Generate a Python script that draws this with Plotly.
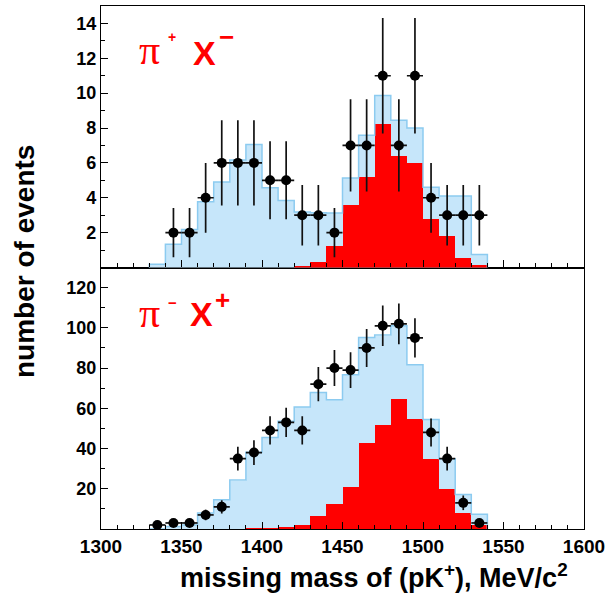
import numpy as np
import plotly.graph_objects as go

# ---------------- data ----------------
bin_centers = [1335, 1345, 1355, 1365, 1375, 1385, 1395, 1405, 1415, 1425, 1435,
               1445, 1455, 1465, 1475, 1485, 1495, 1505, 1515, 1525, 1535]

# top panel: pi+ X-
top_total = [0.18, 1.33, 2.18, 3.77, 4.91, 6.17, 7.05, 4.57, 3.85, 3.18, 3.14,
             3.12, 5.14, 7.58, 9.87, 8.44, 8.0, 4.61, 4.1, 4.1, 0.75]
top_signal = [0, 0, 0, 0, 0, 0, 0, 0, 0, 0.08, 0.3,
              1.22, 3.56, 5.22, 8.21, 6.42, 5.98, 2.8, 1.79, 0.52, 0.12]
top_pts_x = [1345, 1355, 1365, 1375, 1385, 1395, 1405, 1415, 1425, 1435,
             1445, 1455, 1465, 1475, 1485, 1495, 1505, 1515, 1525, 1535]
top_pts_y = [2, 2, 4, 6, 6, 6, 5, 5, 3, 3, 2, 7, 7, 11, 7, 11, 4, 3, 3, 3]

# bottom panel: pi- X+
bot_total = [0, 1.2, 2.0, 8.0, 14.5, 24.3, 38.2, 45.5, 53.6, 60.7, 67.8,
             64.3, 76.7, 95.2, 96.4, 101, 81.7, 54.4, 34.9, 17.2, 7.3]
bot_signal = [0, 0, 0, 0, 0.2, 0.2, 0.3, 0.6, 1.3, 2.3, 6.9,
              12.6, 21, 42.8, 52.2, 64.8, 54.9, 35, 20.2, 8.1, 2.3]
bot_pts_x = bin_centers
bot_pts_y = [2, 3, 3, 7, 11, 35, 38, 49, 53, 49, 72, 80, 79, 90, 101, 102, 95, 48, 35, 13, 3]

x_ticks = [1300, 1350, 1400, 1450, 1500, 1550, 1600]
top_yticks = [2, 4, 6, 8, 10, 12, 14]
bot_yticks = [20, 40, 60, 80, 100, 120]

BIN_W = 10
BLUE_FILL = "#c6e6fa"
BLUE_LINE = "#8ccbf0"
RED = "#ff0000"
FONT = "Liberation Sans"

W, H = 612, 596
ML, MR, MT, MB = 101, 28, 6, 67
PW, PH = W - ML - MR, H - MT - MB


def px(xp):
    return (xp - ML) / PW


def py(yp):
    return (H - MB - yp) / PH


def step_xy(centers, vals):
    edges = [c - BIN_W / 2 for c in centers]
    end = centers[-1] + BIN_W / 2
    xs = [edges[0]] + edges + [end, end]
    ys = [0] + list(vals) + [vals[-1], 0]
    return xs, ys


fig = go.Figure()

for (tot, sig, ptx, pty, xa, ya) in [
    (top_total, top_signal, top_pts_x, top_pts_y, "x2", "y2"),
    (bot_total, bot_signal, bot_pts_x, bot_pts_y, "x", "y"),
]:
    fig.add_trace(go.Bar(x=bin_centers, y=tot, width=BIN_W, marker_color=BLUE_FILL,
                         marker_line_width=0, xaxis=xa, yaxis=ya, showlegend=False))
    sx, sy = step_xy(bin_centers, tot)
    fig.add_trace(go.Scatter(x=sx, y=sy, mode="lines", line_shape="hv",
                             line=dict(color=BLUE_LINE, width=1.5),
                             xaxis=xa, yaxis=ya, showlegend=False))
    fig.add_trace(go.Bar(x=bin_centers, y=sig, width=BIN_W, marker_color=RED,
                         marker_line_width=0, xaxis=xa, yaxis=ya, showlegend=False))
    fig.add_trace(go.Scatter(
        x=ptx, y=pty, mode="markers",
        marker=dict(color="black", size=10),
        error_y=dict(type="data", array=list(np.sqrt(pty)), color="#111111",
                     thickness=1.7, width=0),
        error_x=dict(type="constant", value=BIN_W / 2, color="#111111",
                     thickness=1.7, width=0),
        xaxis=xa, yaxis=ya, showlegend=False))

axis_common = dict(showline=True, linecolor="black", linewidth=1.3, mirror=True,
                   ticks="inside", ticklen=7, tickwidth=1, tickcolor="black",
                   showgrid=False, zeroline=False)
tickfont = dict(family=FONT, size=18, color="black", weight="bold")

fig.update_layout(
    width=W, height=H,
    margin=dict(l=ML, r=MR, t=MT, b=MB),
    paper_bgcolor="white", plot_bgcolor="white",
    barmode="overlay", bargap=0,
    xaxis=dict(domain=[0, 1], anchor="y", range=[1300, 1600], tickvals=x_ticks,
               tickfont=dict(family=FONT, size=19, color="black", weight="bold"),
               minor=dict(dtick=10, tick0=1300, ticks="inside", ticklen=4,
                          tickcolor="black", showgrid=False),
               **axis_common),
    xaxis2=dict(domain=[0, 1], anchor="y2", matches="x", range=[1300, 1600],
                tickvals=x_ticks, showticklabels=False,
                minor=dict(dtick=10, tick0=1300, ticks="inside", ticklen=4,
                           tickcolor="black", showgrid=False),
                **axis_common),
    yaxis=dict(domain=[0, 0.5], anchor="x", range=[0, 130], tickvals=bot_yticks,
               tickfont=tickfont,
               minor=dict(dtick=10, tick0=0, ticks="inside", ticklen=4,
                          tickcolor="black", showgrid=False),
               **axis_common),
    yaxis2=dict(domain=[0.5, 1], anchor="x2", range=[0, 15], tickvals=top_yticks,
                tickfont=tickfont,
                minor=dict(dtick=1, tick0=0, ticks="inside", ticklen=4,
                           tickcolor="black", showgrid=False),
                **axis_common),
)

ann = []


def add_text(text, xp, yp, size, family=FONT, bold=False, color=RED, angle=0):
    ann.append(dict(text=text, x=px(xp), y=py(yp), xref="paper", yref="paper",
                    xanchor="center", yanchor="middle", showarrow=False,
                    textangle=angle,
                    font=dict(family=family, size=size, color=color,
                              weight="bold" if bold else "normal")))


# top label  pi+ X-
add_text("π", 149, 50, 42, family="Liberation Serif")
add_text("+", 172, 37, 14, bold=True)
add_text("X", 204, 53, 34, bold=True)
add_text("−", 226, 37, 26, bold=True)
# bottom label  pi- X+
add_text("π", 149, 313, 42, family="Liberation Serif")
add_text("−", 172, 302, 15, bold=True)
add_text("X", 201, 314, 34, bold=True)
add_text("+", 222, 300, 26, bold=True)

# axis titles
add_text("number of events", 24, 262, 28, bold=True, color="black", angle=-90)
add_text("missing mass of (pK<sup>+</sup>), MeV/c<sup>2</sup>", 374, 576, 27,
         bold=True, color="black")

fig.update_layout(annotations=ann)

fig.write_html("out.html")
